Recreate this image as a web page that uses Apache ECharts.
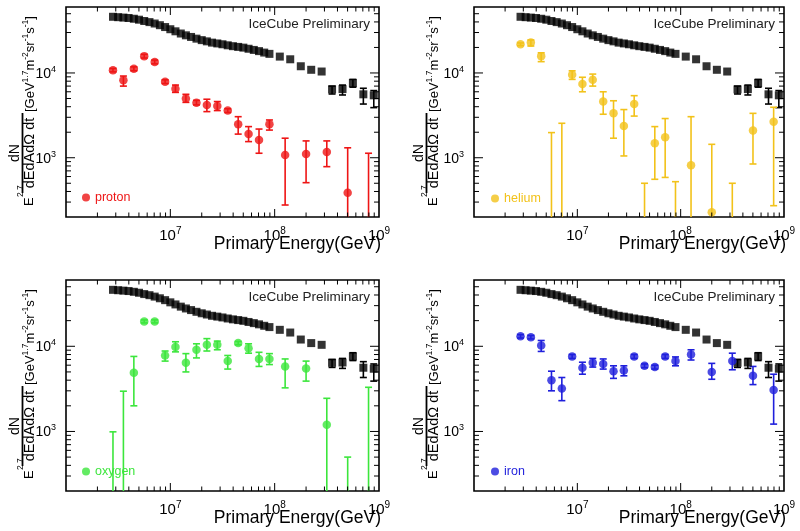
<!DOCTYPE html>
<html><head><meta charset="utf-8">
<script src="https://cdn.jsdelivr.net/npm/echarts@6/dist/echarts.min.js"></script>
<style>html,body{margin:0;padding:0;background:#fff}#c{width:800px;height:531px}</style>
</head><body><div id="c"></div>
<script>
// ---------- data (energies in GeV, flux in GeV^1.7 m^-2 sr^-1 s^-1) ----------
const energyAll = [2.82e6,3.16e6,3.55e6,3.98e6,4.47e6,5.01e6,5.62e6,6.31e6,7.08e6,7.94e6,
  8.91e6,1.00e7,1.12e7,1.26e7,1.41e7,1.58e7,1.78e7,2.00e7,2.24e7,2.51e7,
  2.82e7,3.16e7,3.55e7,3.98e7,4.47e7,5.01e7,5.62e7,6.31e7,7.08e7,7.94e7,
  8.91e7,1.12e8,1.41e8,1.78e8,2.24e8,2.82e8,3.55e8,4.47e8,5.62e8,7.08e8,8.91e8];
const fluxAll = [46000,45500,45000,44500,43600,42500,41000,39800,38300,36600,
  34800,32800,31000,29200,27800,26600,25400,24400,23600,22800,
  22300,21800,21200,20700,20300,19900,19300,18700,18100,17400,
  16800,15600,14500,12000,10900,10400,6400,6450,7600,5600,5450];
const fluxAllLow = [null,null,null,null,null,null,null,null,null,null,
  null,null,null,null,null,null,null,null,null,null,
  null,null,null,null,null,null,null,null,null,null,
  null,null,null,null,null,null,5650,5500,6800,4300,3900];
const fluxAllHigh = [null,null,null,null,null,null,null,null,null,null,
  null,null,null,null,null,null,null,null,null,null,
  null,null,null,null,null,null,null,null,null,null,
  null,null,null,null,null,null,7000,7200,8400,6600,6200];

const energyComp = [2.82e6,3.55e6,4.47e6,5.62e6,7.08e6,8.91e6,1.12e7,1.41e7,1.78e7,2.24e7,
  2.82e7,3.55e7,4.47e7,5.62e7,7.08e7,8.91e7,1.26e8,2.00e8,3.16e8,5.01e8,7.94e8];

const protonFlux = [10800,8200,11200,15800,13500,7900,6500,5000,4460,4190,4080,3600,2480,1900,1620,2480,1080,1110,1170,387,null];
const protonLow  = [10300,7000,10600,15000,12800,7500,5900,4500,4200,3500,3600,3420,1900,1550,1130,2120,277,508,785,100,100];
const protonHigh = [11300,9200,11800,16600,14200,8300,7200,5600,4750,4900,4600,3780,3050,2330,2180,2790,1700,1580,1580,1310,1130];

const heliumFlux = [21800,22800,15800,null,null,9500,7400,8300,4600,3340,2370,4300,null,1480,1740,null,815,227,null,2090,2660];
const heliumLow  = [21000,20800,13600,100,100,8400,6000,7000,3260,1700,1050,3100,100,557,586,100,100,100,100,844,272];
const heliumHigh = [22600,24500,17300,1980,2550,10600,8900,9700,6000,4700,3700,5400,500,2330,2900,522,3050,1440,500,3340,3940];

const oxygenFlux = [null,null,4900,19600,19600,7800,9800,6400,9100,10400,10400,6700,10900,9500,7100,7100,5800,5500,1200,null,null];
const oxygenLow  = [100,100,2000,18800,18800,6700,8600,5000,7300,8800,9100,5400,10400,8300,5800,6100,3250,3900,100,100,100];
const oxygenHigh = [990,2970,7600,20400,20400,8800,11300,8200,10700,12300,11500,7800,11400,10700,8500,8200,7100,6700,2450,500,3300];

const ironFlux = [13100,12800,10200,4000,3200,7600,5600,6400,6200,5100,5200,7600,5900,5700,7600,6700,8000,5000,6700,4500,3070];
const ironLow  = [12500,12200,8700,3000,2300,7200,4700,5700,5400,4200,4500,7200,5600,5400,7200,5900,6900,4100,5300,3550,1220];
const ironHigh = [13700,13400,11700,5100,4300,8000,6500,7200,7100,5900,5900,8000,6200,6000,8000,7500,9100,6300,8300,5800,4700];

// axis ranges and tick positions
const xRange = [1e6, 1e9];
const yRange = [200, 60000];
const xMajorTicks = [1e7, 1e8];
const xMinorTicks = [2e6,3e6,4e6,5e6,6e6,7e6,8e6,9e6,2e7,3e7,4e7,5e7,6e7,7e7,8e7,9e7,2e8,3e8,4e8,5e8,6e8,7e8,8e8,9e8];
const yMajorTicks = [1e3, 1e4];
const yMinorTicks = [300,400,500,600,700,800,900,2000,3000,4000,5000,6000,7000,8000,9000,20000,30000,40000,50000];

const xTitle = 'Primary Energy(GeV)';
const watermark = 'IceCube Preliminary';
const allName = 'all particle';

// ---------- layout / style ----------
const FONT = "'Liberation Sans', Arial, Helvetica, sans-serif";
const TFONT = "'Liberation Sans', Arial, sans-serif";

const panels = [
  {name:'proton', color:'#ee1515', flux:protonFlux, low:protonLow, high:protonHigh,
   grid:{left:66, top:7, width:313, height:210}, legendPos:[82,191], titleOff:[0,206]},
  {name:'helium', color:'#f2c21a', flux:heliumFlux, low:heliumLow, high:heliumHigh,
   grid:{left:474, top:7, width:310, height:210}, legendPos:[491,192], titleOff:[404,206]},
  {name:'oxygen', color:'#3ce63c', flux:oxygenFlux, low:oxygenLow, high:oxygenHigh,
   grid:{left:66, top:280, width:313, height:211}, legendPos:[82,465], titleOff:[0,479]},
  {name:'iron', color:'#1f1fdc', flux:ironFlux, low:ironLow, high:ironHigh,
   grid:{left:474, top:280, width:310, height:211}, legendPos:[491,465], titleOff:[404,479]}
];

function powFmt(skip) {
  return function (v) {
    const l = Math.log10(v), r = Math.round(l);
    if (Math.abs(l - r) > 1e-6 || skip.indexOf(r) >= 0) return '';
    return '{b|10}{s|' + r + '}';
  };
}
const xRich = {
  b:{fontSize:15, lineHeight:17, fontFamily:FONT, color:'#000', verticalAlign:'bottom'},
  s:{fontSize:10, lineHeight:10, fontFamily:FONT, color:'#000', verticalAlign:'top'}
};
const yRich = {
  b:{fontSize:14, lineHeight:16, fontFamily:FONT, color:'#000', verticalAlign:'bottom'},
  s:{fontSize:9, lineHeight:9, fontFamily:FONT, color:'#000', verticalAlign:'top'}
};

function errSeries(i, xs, lows, highs, color, lw) {
  const data = [];
  xs.forEach((x, k) => { if (lows[k] != null && highs[k] != null) data.push([x, lows[k], highs[k]]); });
  return {
    type:'custom', xAxisIndex:i, yAxisIndex:i, clip:true, silent:true, z:3,
    encode:{x:0, y:[1,2]}, data,
    renderItem:(params, api) => {
      const x = api.value(0);
      const a = api.coord([x, api.value(1)]), b = api.coord([x, api.value(2)]);
      const c = 3.5, st = {stroke:color, lineWidth:lw};
      return {type:'group', children:[
        {type:'line', shape:{x1:a[0], y1:a[1], x2:b[0], y2:b[1]}, style:st},
        {type:'line', shape:{x1:a[0]-c, y1:a[1], x2:a[0]+c, y2:a[1]}, style:st},
        {type:'line', shape:{x1:b[0]-c, y1:b[1], x2:b[0]+c, y2:b[1]}, style:st}
      ]};
    }
  };
}

function tickSeries(i) {
  return {
    type:'custom', xAxisIndex:i, yAxisIndex:i, clip:false, silent:true, z:6,
    data:[[xRange[0], yRange[0]]],
    renderItem:(params, api) => {
      const cs = params.coordSys;
      const top = cs.y, bot = cs.y + cs.height, lft = cs.x, rgt = cs.x + cs.width;
      const st = {stroke:'#000', lineWidth:1};
      const ch = [];
      const xt = (v, len) => {
        const px = api.coord([v, yRange[0]])[0];
        ch.push({type:'line', shape:{x1:px, y1:bot, x2:px, y2:bot-len}, style:st});
        ch.push({type:'line', shape:{x1:px, y1:top, x2:px, y2:top+len}, style:st});
      };
      const yt = (v, len) => {
        const py = api.coord([xRange[0], v])[1];
        ch.push({type:'line', shape:{x1:lft, y1:py, x2:lft+len, y2:py}, style:st});
        ch.push({type:'line', shape:{x1:rgt, y1:py, x2:rgt-len, y2:py}, style:st});
      };
      xMajorTicks.forEach(v => xt(v, 8));
      xMinorTicks.forEach(v => xt(v, 4.5));
      yMajorTicks.forEach(v => yt(v, 9));
      yMinorTicks.forEach(v => yt(v, 5));
      return {type:'group', children:ch};
    }
  };
}

function yTitle(off) {
  const st = (t, x, y, fs, align) => ({type:'text', x, y, style:{text:t, fontSize:fs, fontFamily:TFONT, fill:'#000', align:align, verticalAlign:'middle'}});
  return {
    type:'group', x:off[0], y:off[1], rotation:Math.PI/2, silent:true,
    children:[
      st('E', 0, 29, 13, 'left'),
      st('2.7', 9, 21, 8.5, 'left'),
      {type:'line', shape:{x1:13, y1:22.5, x2:93, y2:22.5}, style:{stroke:'#000', lineWidth:1.8}},
      st('dN', 53, 15, 14, 'center'),
      st('dEdAd\u03a9 dt', 53, 29.5, 14.5, 'center'),
      {type:'text', x:94, y:29, style:{
        text:'{m|[GeV}{s|1.7}{m|m}{s|-2}{m|sr}{s|-1}{m|s}{s|-1}{m|]}',
        align:'left', verticalAlign:'middle', fill:'#000',
        rich:{m:{fontSize:13, lineHeight:16, fontFamily:TFONT, fill:'#000', verticalAlign:'bottom'},
              s:{fontSize:8.5, lineHeight:9, fontFamily:TFONT, fill:'#000', verticalAlign:'top'}}
      }}
    ]
  };
}

const option = {animation:false, backgroundColor:'#fff', grid:[], xAxis:[], yAxis:[], series:[], legend:[], graphic:[]};

panels.forEach((p, i) => {
  const g = p.grid;
  option.grid.push(Object.assign({show:true, borderColor:'#000', borderWidth:1.6, backgroundColor:'transparent', containLabel:false, outerBoundsMode:'none'}, g));
  option.xAxis.push({type:'log', logBase:10, gridIndex:i, min:xRange[0], max:xRange[1],
    axisLine:{show:false}, axisTick:{show:false}, splitLine:{show:false}, minorTick:{show:false},
    axisLabel:{show:true, margin:9, interval:0, hideOverlap:false, showMinLabel:true, showMaxLabel:true, formatter:powFmt([6]), rich:xRich}});
  option.yAxis.push({type:'log', logBase:10, gridIndex:i, min:yRange[0], max:yRange[1],
    axisLine:{show:false}, axisTick:{show:false}, splitLine:{show:false}, minorTick:{show:false},
    axisLabel:{show:true, margin:10, interval:0, hideOverlap:false, formatter:powFmt([]), rich:yRich}});

  option.series.push(errSeries(i, energyAll, fluxAllLow, fluxAllHigh, '#000', 1.6));
  option.series.push(errSeries(i, energyComp, p.low, p.high, p.color, 1.6));
  option.series.push({type:'scatter', name:allName, xAxisIndex:i, yAxisIndex:i, z:4, silent:true,
    symbol:'rect', symbolSize:8, itemStyle:{color:'#000'},
    data: energyAll.map((x, k) => [x, fluxAll[k]])});
  option.series.push({type:'scatter', name:p.name, xAxisIndex:i, yAxisIndex:i, z:5, silent:true,
    symbol:'circle', symbolSize:8.5, itemStyle:{color:p.color},
    data: energyComp.map((x, k) => [x, p.flux[k]]).filter(d => d[1] != null)});
  option.series.push(tickSeries(i));

  option.legend.push({show:true, left:p.legendPos[0], top:p.legendPos[1], padding:0, itemGap:0,
    itemWidth:8, itemHeight:8, selectedMode:false, icon:'circle',
    data:[{name:p.name, icon:'circle'}],
    textStyle:{fontSize:12.5, fontFamily:FONT, color:p.color, padding:[0,0,0,0]}});

  const right = g.left + g.width, bottom = g.top + g.height;
  option.graphic.push({type:'text', x:right - 9, y:g.top + 17, silent:true,
    style:{text:watermark, fontSize:13.5, fontFamily:FONT, fill:'#222', align:'right', verticalAlign:'middle'}});
  option.graphic.push({type:'text', x:right + 2, y:bottom + 27, silent:true,
    style:{text:xTitle, fontSize:17.5, fontFamily:FONT, fill:'#000', align:'right', verticalAlign:'middle'}});
  option.graphic.push(yTitle(p.titleOff));
});

const chart = echarts.init(document.getElementById('c'), null, {renderer:'canvas'});
chart.setOption(option);
</script>
</body></html>
